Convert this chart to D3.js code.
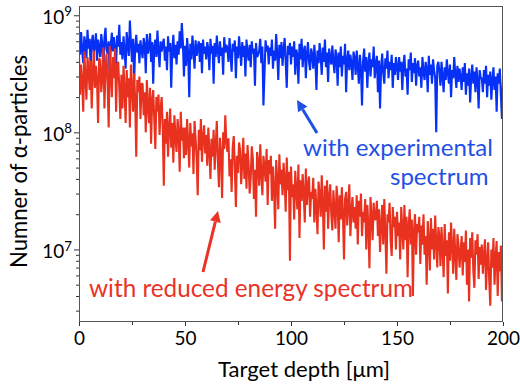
<!DOCTYPE html>
<html>
<head>
<meta charset="utf-8">
<script src="https://cdn.jsdelivr.net/npm/d3@7"></script>
<style>
  body { margin: 0; background: #fff; }
  svg { display: block; }
  text { font-family: Lato, "Open Sans", sans-serif; }
</style>
</head>
<body>
<svg id="chart" width="520" height="387"></svg>
<script>
// Depth grid of the simulation output [µm]
const depth = d3.range(0, 200.0001, 0.5);

// Number of α-particles per depth bin, with the experimental source spectrum
const experimental = [
  6.1e8,4.6e8,7.2e8,5.0e8,3.9e8,6.6e8,5.8e8,4.3e8,7.5e8,5.2e8,6.3e8,3.6e8,5.9e8,6.8e8,4.8e8,5.5e8,7.0e8,4.1e8,6.2e8,5.3e8,
  4.4e8,6.9e8,5.7e8,3.3e8,6.4e8,7.8e8,5.1e8,4.7e8,6.0e8,2.9e8,5.6e8,7.1e8,4.9e8,6.5e8,5.2e8,3.8e8,6.7e8,5.4e8,8.3e8,4.6e8,
  5.9e8,4.2e8,6.6e8,5.0e8,3.5e8,7.2e8,5.5e8,4.5e8,9.0e8,5.8e8,4.0e8,6.3e8,2.7e8,5.3e8,6.8e8,4.8e8,5.7e8,3.9e8,6.1e8,5.1e8,
  4.3e8,6.4e8,5.6e8,3.2e8,6.9e8,4.7e8,5.3e8,7.0e8,4.0e8,5.9e8,2.6e8,5.4e8,6.2e8,4.4e8,7.4e8,5.0e8,3.6e8,6.0e8,4.9e8,5.7e8,
  6.3e8,4.1e8,5.4e8,3.4e8,6.6e8,4.9e8,5.8e8,2.4e8,5.1e8,6.8e8,4.3e8,5.6e8,3.8e8,6.0e8,4.6e8,7.3e8,5.2e8,8.6e8,5.9e8,3.0e8,
  5.5e8,3.7e8,6.4e8,4.8e8,2.0e8,5.7e8,4.2e8,6.7e8,5.0e8,3.5e8,6.1e8,4.5e8,5.3e8,6.0e8,4.0e8,5.8e8,3.2e8,6.2e8,4.7e8,5.4e8,
  4.2e8,5.9e8,5.1e8,3.4e8,6.3e8,4.7e8,5.5e8,2.6e8,5.8e8,4.4e8,6.7e8,5.0e8,3.9e8,6.0e8,4.5e8,5.3e8,3.1e8,6.5e8,4.8e8,5.6e8,
  5.2e8,4.0e8,6.4e8,4.6e8,3.3e8,5.7e8,4.9e8,6.1e8,2.9e8,5.4e8,4.3e8,6.6e8,5.0e8,3.7e8,5.9e8,4.4e8,5.5e8,3.0e8,6.2e8,4.8e8,
  4.1e8,5.6e8,3.6e8,6.0e8,4.7e8,5.2e8,2.5e8,5.8e8,4.4e8,4.6e8,5.0e8,6.3e8,3.9e8,5.4e8,1.7e8,3.2e8,6.1e8,4.9e8,5.5e8,3.8e8,
  5.3e8,4.5e8,6.2e8,3.5e8,5.0e8,4.1e8,6.9e8,4.7e8,2.8e8,5.6e8,4.3e8,5.9e8,3.7e8,5.1e8,6.4e8,4.0e8,2.4e8,5.5e8,4.6e8,5.8e8,
  3.8e8,5.4e8,4.4e8,6.0e8,3.1e8,5.1e8,4.6e8,2.6e8,5.7e8,4.2e8,6.3e8,3.6e8,4.9e8,5.5e8,2.9e8,4.7e8,5.9e8,4.0e8,3.4e8,5.2e8,
  4.6e8,3.5e8,5.6e8,4.1e8,2.3e8,5.0e8,3.9e8,5.8e8,4.4e8,3.1e8,5.3e8,4.0e8,6.2e8,3.6e8,4.8e8,2.7e8,5.2e8,4.3e8,3.8e8,5.5e8,
  4.0e8,3.2e8,5.1e8,4.4e8,2.5e8,4.8e8,3.6e8,5.4e8,3.0e8,4.5e8,3.8e8,5.7e8,2.2e8,4.2e8,5.0e8,3.4e8,4.6e8,3.9e8,2.8e8,4.9e8,
  4.3e8,3.1e8,5.0e8,3.7e8,2.6e8,4.6e8,3.5e8,1.7e8,4.1e8,5.2e8,3.3e8,4.4e8,2.4e8,3.9e8,4.8e8,3.0e8,4.2e8,3.6e8,5.4e8,2.9e8,
  3.8e8,4.5e8,2.2e8,4.1e8,1.6e8,3.6e8,4.7e8,3.2e8,2.6e8,4.3e8,3.5e8,5.0e8,2.9e8,4.0e8,3.4e8,4.6e8,2.4e8,3.9e8,3.1e8,4.4e8,
  3.6e8,2.8e8,4.4e8,3.3e8,4.0e8,2.3e8,3.8e8,4.6e8,3.0e8,3.5e8,2.1e8,4.2e8,3.4e8,4.8e8,2.7e8,3.9e8,3.2e8,4.3e8,2.5e8,3.7e8,
  4.1e8,3.0e8,3.6e8,2.4e8,4.4e8,3.3e8,2.8e8,4.0e8,3.5e8,2.2e8,4.5e8,3.1e8,3.8e8,2.6e8,4.2e8,3.4e8,2.9e8,1.0e8,3.7e8,4.0e8,
  3.3e8,2.5e8,4.0e8,3.0e8,2.2e8,3.6e8,2.8e8,4.2e8,3.2e8,2.6e8,3.8e8,2.0e8,3.4e8,2.9e8,4.4e8,3.1e8,2.4e8,3.7e8,2.7e8,3.5e8,
  3.0e8,2.3e8,3.6e8,2.7e8,3.9e8,2.1e8,3.2e8,2.5e8,3.5e8,1.8e8,3.0e8,3.8e8,2.6e8,3.3e8,2.2e8,3.6e8,2.8e8,1.6e8,3.4e8,2.9e8,
  2.9e8,2.2e8,3.4e8,2.6e8,3.7e8,2.0e8,3.1e8,2.5e8,3.3e8,1.9e8,2.8e8,3.6e8,2.3e8,3.0e8,1.5e8,3.2e8,2.6e8,3.5e8,2.1e8,1.3e8,
  2.8e8
];

// Number of α-particles per depth bin, with the reduced energy spectrum
const reducedEnergy = [
  4.6e8,2.1e8,3.8e8,2.7e8,1.5e8,4.9e8,3.0e8,1.9e8,4.4e8,3.4e8,2.3e8,4.1e8,1.6e8,3.2e8,5.0e8,2.4e8,3.7e8,2.8e8,1.2e8,4.3e8,
  4.1e8,2.2e8,3.0e8,5.3e8,1.6e8,3.6e8,4.7e8,2.6e8,1.1e8,5.5e8,3.3e8,2.0e8,4.4e8,2.9e8,5.2e8,1.5e8,3.8e8,4.0e8,2.4e8,1.3e8,
  3.1e8,1.6e8,3.7e8,2.3e8,1.2e8,3.4e8,2.0e8,2.9e8,1.1e8,3.8e8,2.5e8,1.5e8,3.2e8,1.9e8,6.2e7,2.8e8,2.2e8,3.0e8,1.3e8,2.6e8,
  2.6e8,1.4e8,2.2e8,1.0e8,2.8e8,1.7e8,1.2e8,2.4e8,8.0e7,1.9e8,2.3e8,1.3e8,7.2e7,2.0e8,1.5e8,2.1e8,9.5e7,1.6e8,2.0e8,1.1e8,
  3.5e7,13e7,8.0e7,15e7,6.2e7,11e7,16e7,7.4e7,12e7,5.5e7,14e7,9.0e7,6.8e7,13e7,10e7,4.6e7,15e7,8.5e7,11e7,6.0e7,
  11e7,6.4e7,13e7,8.2e7,5.0e7,12e7,7.6e7,9.8e7,4.4e7,12.5e7,8.8e7,6.0e7,2.9e7,10.5e7,7.0e7,13e7,5.6e7,9.2e7,11.5e7,6.6e7,
  9.5e7,5.2e7,11e7,7.0e7,4.0e7,8.8e7,6.2e7,10.5e7,4.8e7,7.8e7,12.5e7,5.8e7,3.4e7,9.0e7,6.6e7,2.75e7,10e7,7.2e7,14e7,8.4e7,
  6.8e7,8.9e7,4.2e7,5.9e7,3.1e7,7.5e7,9.3e7,5.0e7,2.3e7,6.3e7,4.5e7,8.2e7,7.0e7,3.6e7,5.5e7,9.0e7,4.0e7,6.6e7,3.3e7,7.8e7,
  5.3e7,3.0e7,4.1e7,7.6e7,6.0e7,2.7e7,4.8e7,1.9e7,6.8e7,5.6e7,3.5e7,7.9e7,4.4e7,2.9e7,6.3e7,5.1e7,3.8e7,7.2e7,2.4e7,5.8e7,
  4.4e7,6.3e7,2.6e7,5.1e7,3.3e7,1.5e7,5.8e7,4.0e7,2.2e7,6.5e7,3.6e7,4.8e7,2.9e7,5.5e7,3.9e7,2.1e7,6.1e7,3.2e7,4.6e7,0.8e7,
  5.1e7,2.8e7,3.6e7,1.8e7,4.7e7,3.2e7,2.2e7,5.3e7,1.25e7,3.9e7,2.6e7,4.4e7,3.0e7,1.7e7,4.9e7,2.4e7,3.5e7,4.2e7,1.9e7,3.1e7,
  2.7e7,4.1e7,1.7e7,3.3e7,2.3e7,1.35e7,3.8e7,2.9e7,1.9e7,4.3e7,2.5e7,1.0e7,3.5e7,2.1e7,3.9e7,1.5e7,2.8e7,3.6e7,2.0e7,1.45e7,
  3.2e7,2.2e7,1.5e7,3.5e7,2.6e7,1.15e7,2.9e7,1.8e7,3.4e7,2.0e7,0.82e7,2.7e7,3.1e7,1.6e7,2.4e7,3.6e7,1.3e7,2.1e7,2.8e7,1.7e7,
  2.3e7,1.5e7,2.9e7,1.1e7,2.6e7,1.9e7,3.0e7,1.3e7,2.1e7,1.7e7,2.7e7,1.0e7,2.4e7,1.6e7,0.69e7,2.8e7,1.9e7,1.2e7,2.5e7,1.8e7,
  1.8e7,2.6e7,1.3e7,2.2e7,0.95e7,1.6e7,2.4e7,1.1e7,2.7e7,1.45e7,0.62e7,2.0e7,1.7e7,2.5e7,1.2e7,0.88e7,2.3e7,1.55e7,1.9e7,1.0e7,
  2.1e7,1.3e7,1.7e7,0.82e7,2.3e7,1.5e7,1.0e7,2.4e7,1.2e7,1.9e7,0.58e7,1.6e7,2.2e7,1.1e7,1.8e7,0.4e7,1.45e7,2.0e7,0.9e7,1.65e7,
  1.4e7,1.9e7,0.75e7,1.6e7,1.1e7,2.0e7,0.9e7,1.3e7,0.5e7,1.75e7,1.2e7,0.66e7,1.85e7,1.0e7,1.5e7,0.82e7,1.95e7,1.15e7,0.7e7,1.55e7,
  1.3e7,0.72e7,1.55e7,1.0e7,0.58e7,1.65e7,0.88e7,1.2e7,0.42e7,1.4e7,0.8e7,1.7e7,1.05e7,0.62e7,1.5e7,0.92e7,0.55e7,1.35e7,1.1e7,0.7e7,
  0.95e7,1.3e7,0.6e7,1.15e7,0.78e7,1.45e7,0.5e7,1.0e7,0.36e7,1.25e7,0.85e7,1.4e7,0.66e7,0.47e7,1.2e7,0.9e7,1.35e7,0.56e7,1.05e7,0.74e7,
  1.1e7,0.62e7,0.9e7,1.22e7,0.45e7,0.8e7,1.15e7,0.55e7,0.33e7,1.0e7,0.7e7,1.25e7,0.5e7,0.85e7,1.18e7,0.4e7,0.95e7,0.65e7,1.08e7,0.36e7,
  0.88e7
];

// Axis ticks
const xMajorTicks = [0, 50, 100, 150, 200];
const xMinorTicks = [25, 75, 125, 175];
const yMajorTicks = [1e7, 1e8, 1e9];
const yMinorTicks = [3e6,4e6,5e6,6e6,7e6,8e6,9e6, 2e7,3e7,4e7,5e7,6e7,7e7,8e7,9e7, 2e8,3e8,4e8,5e8,6e8,7e8,8e8,9e8];

// Labels
const xTitle = "Target depth [μm]";
const yTitle = "Numner of α-particles";
const expLabel = ["with experimental", "spectrum"];
const redLabel = "with reduced energy spectrum";

const COL_EXP = "#0630f5";
const COL_EXP_TEXT = "#1f50e6";
const COL_RED = "#e8321f";
const COL_RED_TEXT = "#ea3226";
const COL_AXIS = "#333";

const svg = d3.select("#chart");
const plot = { left: 79, right: 503, top: 6, bottom: 322 };

const x = d3.scaleLinear().domain([0, 200]).range([plot.left, plot.right]);
const y = d3.scaleLog().domain([2.4e6, 1.2e9]).range([plot.bottom, plot.top]);

// Scale a text's font size so that its rendered width equals w
function fitWidth(sel, w) {
  sel.each(function () {
    const fs = parseFloat(this.getAttribute("font-size"));
    const len = this.getComputedTextLength();
    if (len > 0) this.setAttribute("font-size", (fs * w / len).toFixed(2));
  });
  return sel;
}

svg.append("defs").append("clipPath").attr("id", "plot-clip")
  .append("rect")
  .attr("x", plot.left).attr("y", plot.top)
  .attr("width", plot.right - plot.left).attr("height", plot.bottom - plot.top);

// Data lines
const line = d3.line()
  .x((d, i) => x(depth[i]))
  .y(d => y(d));

const lines = svg.append("g").attr("clip-path", "url(#plot-clip)");
lines.append("path")
  .datum(experimental)
  .attr("d", line)
  .attr("fill", "none")
  .attr("stroke", COL_EXP)
  .attr("stroke-width", 2.1)
  .attr("stroke-linejoin", "bevel");
lines.append("path")
  .datum(reducedEnergy)
  .attr("d", line)
  .attr("fill", "none")
  .attr("stroke", COL_RED)
  .attr("stroke-width", 2.1)
  .attr("stroke-linejoin", "bevel");

// Frame
svg.append("rect")
  .attr("x", plot.left + 0.5).attr("y", plot.top + 0.5)
  .attr("width", plot.right - plot.left - 1).attr("height", plot.bottom - plot.top - 1)
  .attr("fill", "none").attr("stroke", "#555").attr("stroke-width", 1);

// X axis
const gxMinor = svg.append("g").attr("transform", `translate(0,${plot.bottom})`)
  .call(d3.axisBottom(x).tickValues(xMinorTicks).tickSize(3).tickFormat(""));
const gx = svg.append("g").attr("transform", `translate(0,${plot.bottom})`)
  .call(d3.axisBottom(x).tickValues(xMajorTicks).tickSize(4).tickPadding(4).tickFormat(d3.format("d")));
[gx, gxMinor].forEach(g => {
  g.select(".domain").remove();
  g.selectAll("line").attr("stroke", COL_AXIS);
});
gx.selectAll("text")
  .attr("font-size", 21).attr("fill", "#000")
  .attr("y", 23).attr("dy", 0)
  .style("font-family", "Lato, 'Open Sans', sans-serif");
fitWidth(gx.selectAll("text").filter(d => d === 200), 33);
const xFs = gx.selectAll("text").filter(d => d === 200).attr("font-size");
gx.selectAll("text").attr("font-size", xFs);

// Y axis
const gyMinor = svg.append("g").attr("transform", `translate(${plot.left},0)`)
  .call(d3.axisLeft(y).tickValues(yMinorTicks).tickSize(3).tickFormat(""));
const gy = svg.append("g").attr("transform", `translate(${plot.left},0)`)
  .call(d3.axisLeft(y).tickValues(yMajorTicks).tickSize(5).tickFormat(""));
[gy, gyMinor].forEach(g => {
  g.select(".domain").remove();
  g.selectAll("line").attr("stroke", COL_AXIS);
});
gy.selectAll(".tick").each(function (d) {
  const t = d3.select(this).select("text")
    .attr("x", -7).attr("dy", "0.45em")
    .attr("text-anchor", "end")
    .attr("fill", "#000")
    .attr("font-size", xFs)
    .style("font-family", "Lato, 'Open Sans', sans-serif");
  t.text(null);
  t.append("tspan").text("10");
  t.append("tspan").attr("dy", "-0.6em").attr("font-size", xFs * 0.7).text(String(Math.round(Math.log10(d))));
});

// Axis titles
const xt = svg.append("text")
  .attr("x", 304).attr("y", 377)
  .attr("text-anchor", "middle").attr("font-size", 20).attr("fill", "#000")
  .text(xTitle);
fitWidth(xt, 172);

const yt = svg.append("text")
  .attr("transform", "translate(27,161.5) rotate(-90)")
  .attr("text-anchor", "middle").attr("font-size", 20).attr("fill", "#000")
  .text(yTitle);
fitWidth(yt, 213);

// Annotations
const e1 = svg.append("text").attr("x", 303).attr("y", 156)
  .attr("font-size", 22).attr("fill", COL_EXP_TEXT).text(expLabel[0]);
fitWidth(e1, 190);
const e2 = svg.append("text").attr("x", 390).attr("y", 185)
  .attr("font-size", e1.attr("font-size")).attr("fill", COL_EXP_TEXT).text(expLabel[1]);

const r1 = svg.append("text").attr("x", 89).attr("y", 297)
  .attr("font-size", 22).attr("fill", COL_RED_TEXT).text(redLabel);
fitWidth(r1, 324);

function arrow(x1, y1, x2, y2, color) {
  const ang = Math.atan2(y2 - y1, x2 - x1);
  const L = 11, Wd = 5.5;
  const bx = x2 - L * Math.cos(ang), by = y2 - L * Math.sin(ang);
  svg.append("line")
    .attr("x1", x1).attr("y1", y1).attr("x2", bx).attr("y2", by)
    .attr("stroke", color).attr("stroke-width", 3);
  const px = -Math.sin(ang), py = Math.cos(ang);
  svg.append("path")
    .attr("d", `M${x2},${y2}L${bx + px * Wd},${by + py * Wd}L${bx - px * Wd},${by - py * Wd}Z`)
    .attr("fill", color);
}
arrow(317, 133, 297, 100, COL_EXP_TEXT);
arrow(203, 272, 218, 211, COL_RED_TEXT);
</script>
</body>
</html>
